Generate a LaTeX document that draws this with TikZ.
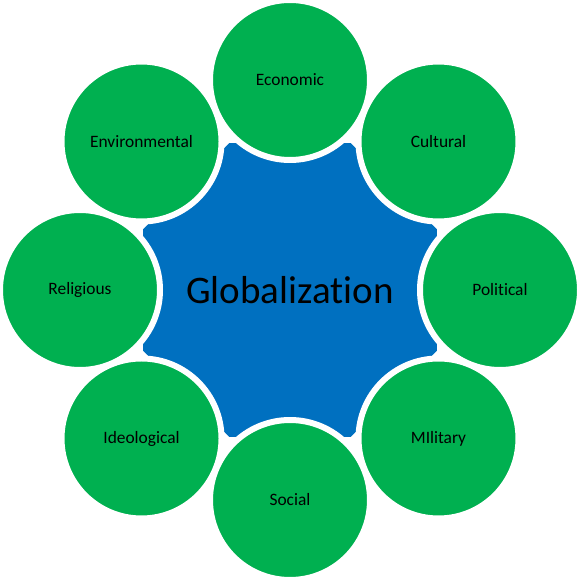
\documentclass[tikz,border=0pt]{standalone}
\usepackage{fontspec}
\setmainfont{Carlito}[Ligatures={NoCommon}]
\usepackage{tikz}
\usetikzlibrary{positioning, shapes.geometric}
\definecolor{hubblue}{HTML}{0070C0}
\definecolor{facetgreen}{HTML}{00B050}

\begin{document}
\begin{tikzpicture}[thin,
		hub/.style={regular polygon,regular polygon sides=8,minimum size=318pt,inner sep=0pt,fill=hubblue,font=\fontsize{39}{41}\selectfont},
		every circle node/.style={minimum size=160pt,inner sep=0mm,fill=facetgreen,draw=white,line width=6pt,font=\fontsize{17.4}{19}\selectfont}]
		
		\useasboundingbox (-290pt,-290pt) rectangle (290pt,290pt);
		
		\node[hub] (glob) at (0,0) {Globalization};
		
		\node[circle] (econ) at (90:210pt) {Economic};
		\node[circle] (cult) at (45:210pt) {Cultural};
		\node[circle] (poli) at (0:210pt) {Political};
		\node[circle] (mili) at (-45:210pt) {MIlitary};
		\node[circle] (soci) at (-90:210pt) {Social};
		\node[circle] (ideo) at (-135:210pt) {Ideological};
		\node[circle] (reli) at (180:210pt) {Religious};
		\node[circle] (envi) at (135:210pt) {Environmental};
		\end{tikzpicture}
\end{document}
